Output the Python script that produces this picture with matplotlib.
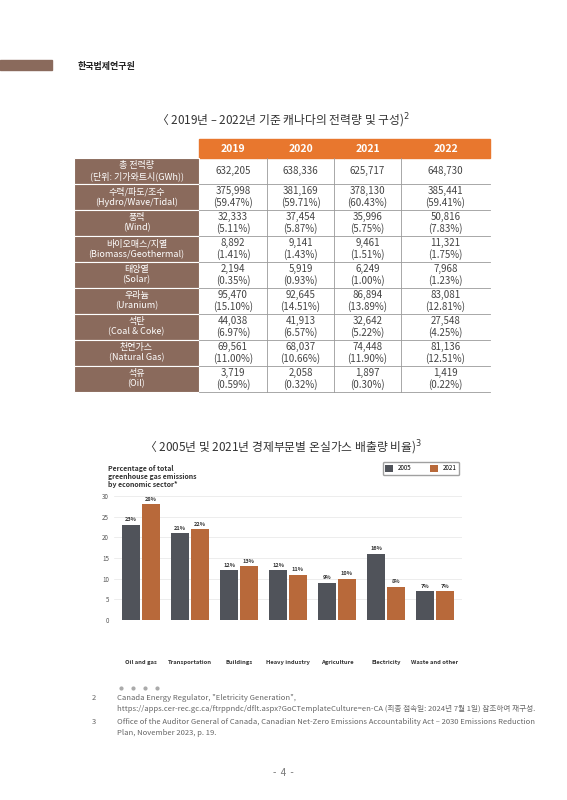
import matplotlib
matplotlib.use("Agg")
import matplotlib.pyplot as plt
from matplotlib.patches import Rectangle
import numpy as np

plt.rcParams['font.family'] = ['Noto Sans CJK KR', 'DejaVu Sans']

years = ["2019", "2020", "2021", "2022"]
row_labels = ["총 전력량\n(단위: 기가와트시(GWh))", "수력/파도/조수\n(Hydro/Wave/Tidal)", "풍력\n(Wind)",
              "바이오매스/지열\n(Biomass/Geothermal)", "태양열\n(Solar)", "우라늄\n(Uranium)",
              "석탄\n(Coal & Coke)", "천연가스\n(Natural Gas)", "석유\n(Oil)"]
cells = [
    ["632,205", "638,336", "625,717", "648,730"],
    ["375,998\n(59.47%)", "381,169\n(59.71%)", "378,130\n(60.43%)", "385,441\n(59.41%)"],
    ["32,333\n(5.11%)", "37,454\n(5.87%)", "35,996\n(5.75%)", "50,816\n(7.83%)"],
    ["8,892\n(1.41%)", "9,141\n(1.43%)", "9,461\n(1.51%)", "11,321\n(1.75%)"],
    ["2,194\n(0.35%)", "5,919\n(0.93%)", "6,249\n(1.00%)", "7,968\n(1.23%)"],
    ["95,470\n(15.10%)", "92,645\n(14.51%)", "86,894\n(13.89%)", "83,081\n(12.81%)"],
    ["44,038\n(6.97%)", "41,913\n(6.57%)", "32,642\n(5.22%)", "27,548\n(4.25%)"],
    ["69,561\n(11.00%)", "68,037\n(10.66%)", "74,448\n(11.90%)", "81,136\n(12.51%)"],
    ["3,719\n(0.59%)", "2,058\n(0.32%)", "1,897\n(0.30%)", "1,419\n(0.22%)"],
]
sectors = ["Oil and gas", "Transportation", "Buildings", "Heavy industry", "Agriculture", "Electricity", "Waste and other"]
v2005 = [23, 21, 12, 12, 9, 16, 7]
v2021 = [28, 22, 13, 11, 10, 8, 7]

W, H = 567, 800
fig = plt.figure(figsize=(W/100, H/100), dpi=100)
bg = fig.add_axes([0, 0, 1, 1])
bg.set_xlim(0, W); bg.set_ylim(H, 0); bg.axis('off')

BROWN = "#8a6a5c"; ORANGE = "#e8772e"; GRID = "#9a9a9a"; TXT = "#444444"

# header
bg.add_patch(Rectangle((0, 60), 52, 10, color=BROWN))
bg.text(78, 66, "한국법제연구원", fontsize=6.5, fontweight='bold', va='center', color="#222")

# table title
bg.text(283, 121, "〈 2019년 – 2022년 기준 캐나다의 전력량 및 구성)$^2$", fontsize=8.5, ha='center', va='center', color="#333")

x_edges = [74, 199, 267, 334, 401, 490]
top = 139; hh = 19; rh = 26
bg.add_patch(Rectangle((x_edges[1], top), x_edges[-1]-x_edges[1], hh, color=ORANGE))
for i, y in enumerate(years):
    bg.text((x_edges[i+1]+x_edges[i+2])/2, top+hh/2, y, ha='center', va='center', color='white', fontsize=7.5, fontweight='bold')
y0 = top + hh
for r, lab in enumerate(row_labels):
    yt = y0 + r*rh
    bg.add_patch(Rectangle((x_edges[0], yt), x_edges[1]-x_edges[0], rh, facecolor=BROWN, edgecolor='white', lw=0.8))
    bg.text((x_edges[0]+x_edges[1])/2, yt+rh/2, lab, ha='center', va='center', color='white', fontsize=6.5, linespacing=1.15)
    for c in range(4):
        bg.text((x_edges[c+1]+x_edges[c+2])/2, yt+rh/2, cells[r][c], ha='center', va='center', color=TXT, fontsize=7, linespacing=1.15)
    bg.plot([x_edges[1], x_edges[-1]], [yt+rh, yt+rh], color=GRID, lw=0.6)
for x in x_edges[2:-1]:
    bg.plot([x, x], [y0, y0+9*rh], color=GRID, lw=0.6)

# chart title
bg.text(283, 448, "〈 2005년 및 2021년 경제부문별 온실가스 배출량 비율)$^3$", fontsize=8.5, ha='center', va='center', color="#333")
bg.text(108, 465, "Percentage of total\ngreenhouse gas emissions\nby economic sector*", fontsize=5, fontweight='bold', va='top', color="#333", linespacing=1.2)

# bar chart
ax_l, ax_r, ax_t, ax_b = 114, 462, 496, 620
ax = fig.add_axes([ax_l/W, 1-ax_b/H, (ax_r-ax_l)/W, (ax_b-ax_t)/H])
x = np.arange(len(sectors))
w = 0.36
ax.bar(x-w/2-0.02, v2005, w, color="#50535a", label="2005")
ax.bar(x+w/2+0.02, v2021, w, color="#b8693a", label="2021")
for i in range(len(x)):
    ax.text(x[i]-w/2-0.02, v2005[i]+0.6, f"{v2005[i]}%", ha='center', va='bottom', fontsize=4, fontweight='bold', color="#333")
    ax.text(x[i]+w/2+0.02, v2021[i]+0.6, f"{v2021[i]}%", ha='center', va='bottom', fontsize=4, fontweight='bold', color="#333")
ax.set_ylim(0, 30)
ax.set_xlim(-0.55, len(x)-0.45)
ax.set_yticks([0, 5, 10, 15, 20, 25, 30])
ax.tick_params(axis='y', labelsize=4.5, length=0, colors="#555")
ax.set_xticks(x)
ax.set_xticklabels(sectors, fontsize=4.2, fontweight='bold', color="#333")
ax.tick_params(axis='x', length=0, pad=29)
ax.grid(axis='y', color="#e6e6e6", lw=0.5)
ax.set_axisbelow(True)
for s in ax.spines.values():
    s.set_visible(False)
leg = ax.legend(loc='upper right', bbox_to_anchor=(1.0, 1.3), ncol=2, fontsize=4.5, frameon=True,
                handlelength=1.2, handleheight=1.2, columnspacing=3)
leg.get_frame().set_edgecolor("#888")

# dots
for i in range(4):
    bg.plot(121+i*12, 688, 'o', color="#aaa", ms=2)

# footnotes
bg.text(92, 698, "2", fontsize=5.5, color="#666", va='center')
bg.text(117, 698, "Canada Energy Regulator, \"Eletricity Generation\",", fontsize=5.5, color="#666", va='center')
bg.text(117, 709, "https://apps.cer-rec.gc.ca/ftrppndc/dflt.aspx?GoCTemplateCulture=en-CA (최종 접속일: 2024년 7월 1일) 참조하여 재구성.", fontsize=5.5, color="#666", va='center')
bg.text(92, 722, "3", fontsize=5.5, color="#666", va='center')
bg.text(117, 722, "Office of the Auditor General of Canada, Canadian Net-Zero Emissions Accountability Act – 2030 Emissions Reduction", fontsize=5.5, color="#666", va='center')
bg.text(117, 733, "Plan, November 2023, p. 19.", fontsize=5.5, color="#666", va='center')
bg.text(283, 773, "-  4  -", fontsize=7, color="#777", ha='center', va='center')

fig.savefig("out.png", dpi=100)
